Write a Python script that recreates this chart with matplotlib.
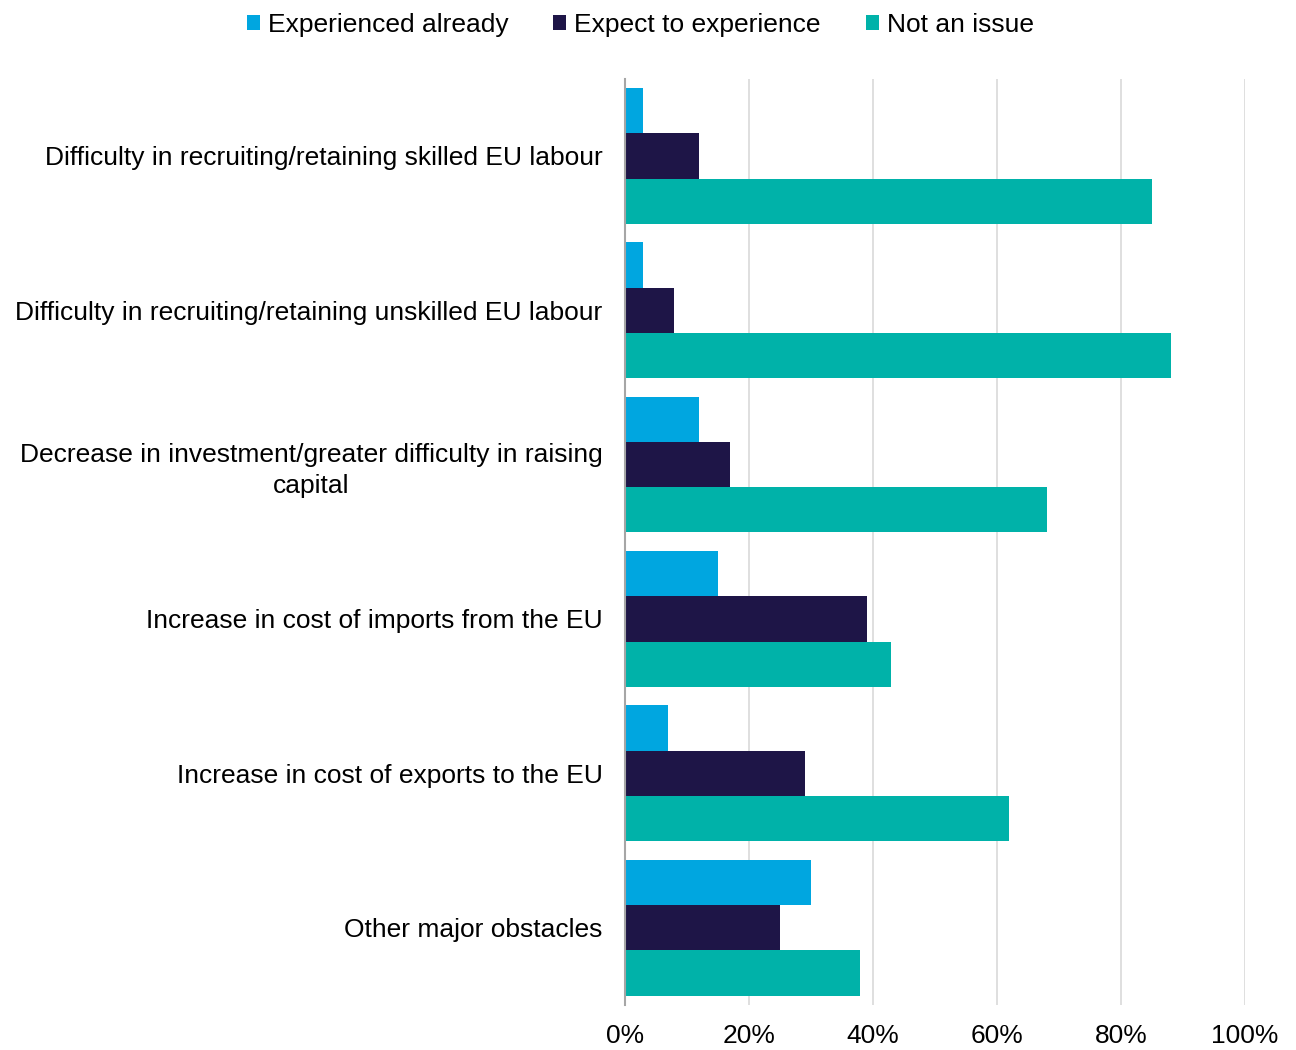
import numpy as np
import matplotlib.pyplot as plt

plt.rcParams['font.family'] = ['Liberation Sans', 'DejaVu Sans']

categories = ['Difficulty in recruiting/retaining skilled EU labour',
              'Difficulty in recruiting/retaining unskilled EU labour',
              'Decrease in investment/greater difficulty in raising\ncapital',
              'Increase in cost of imports from the EU',
              'Increase in cost of exports to the EU',
              'Other major obstacles']
experienced = [3, 3, 12, 15, 7, 30]
expect = [12, 8, 17, 39, 29, 25]
not_issue = [85, 88, 68, 43, 62, 38]

series = ['Experienced already', 'Expect to experience', 'Not an issue']
colors = ['#00A6E0', '#1E1547', '#00B2A9']

fig = plt.figure(figsize=(12.96, 10.5), dpi=100)
ax = fig.add_axes([0.482, 0.043, 0.4787, 0.882])

y = np.arange(len(categories))
h = 0.293
for i, (vals, lab, c) in enumerate(zip([experienced, expect, not_issue], series, colors)):
    ax.barh(y + (i - 1) * h, vals, height=h, color=c, label=lab, zorder=3)

ax.set_ylim(len(categories) - 0.5, -0.5)
ax.set_xlim(0, 100)
ax.set_xticks(np.arange(0, 101, 20))
ax.set_xticklabels([f'{v}%' for v in range(0, 101, 20)], fontsize=19)
ax.set_yticks(y)
ax.set_yticklabels(categories, fontsize=19, multialignment='center', linespacing=1.35)
ax.tick_params(axis='both', length=0)
ax.tick_params(axis='y', pad=16)
ax.tick_params(axis='x', pad=14)
ax.grid(axis='x', color='#D9D9D9', linewidth=1.2, zorder=0)
for s in ['top', 'right', 'bottom']:
    ax.spines[s].set_visible(False)
ax.spines['left'].set_color('#A6A6A6')
ax.spines['left'].set_linewidth(1.5)
ax.spines['left'].set_zorder(4)

fig.legend(loc='upper center', bbox_to_anchor=(0.494, 1.01), ncol=3, frameon=False,
           fontsize=19, handlelength=0.5, handleheight=0.5, handletextpad=0.3,
           columnspacing=1.7)

fig.savefig('out.png', dpi=100)
